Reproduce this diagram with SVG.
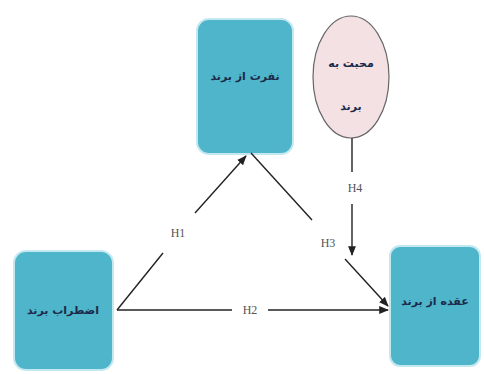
<svg xmlns="http://www.w3.org/2000/svg" width="484" height="374" viewBox="0 0 484 374">
<defs>
<style>
.box{fill:#4fb5ca;stroke:#c4e8f0;stroke-width:2}
.lbl{font-family:"DejaVu Sans",sans-serif;font-size:11px;font-weight:bold;fill:#1c2a4a;text-anchor:middle}
.h{font-family:"Liberation Serif",serif;font-size:12px;fill:#555;text-anchor:middle}
.ln{stroke:#222;stroke-width:1.4;fill:none}
</style>
<marker id="ar" viewBox="0 0 10 10" refX="9" refY="5" markerWidth="7" markerHeight="7" orient="auto-start-reverse">
<path d="M0,1 L10,5 L0,9 z" fill="#222"/>
</marker>
</defs>
<rect width="484" height="374" fill="#fff"/>
<g id="n-hate">
<rect class="box" x="197" y="19" width="96" height="135" rx="12"/>
<text class="lbl" x="245" y="80">نفرت از برند</text>
</g>
<g id="n-love">
<ellipse cx="351" cy="77" rx="38" ry="61" fill="#f4e1e4" stroke="#666" stroke-width="1.2"/>
<text class="lbl" x="351" y="67">محبت به</text>
<text class="lbl" x="351" y="110">برند</text>
</g>
<g id="n-anx">
<rect class="box" x="14" y="251" width="99" height="119" rx="12"/>
<text class="lbl" x="63" y="314">اضطراب برند</text>
</g>
<g id="n-comp">
<rect class="box" x="390" y="246" width="90" height="120" rx="10"/>
<text class="lbl" x="435" y="305">عقده از برند</text>
</g>
<g id="connectors">
<line class="ln" x1="117" y1="310" x2="163" y2="253"/>
<line class="ln" x1="195" y1="213" x2="246" y2="156" marker-end="url(#ar)"/>
<text class="h" x="178" y="237">H1</text>
<line class="ln" x1="117" y1="310" x2="232" y2="310"/>
<line class="ln" x1="268" y1="310" x2="388" y2="310" marker-end="url(#ar)"/>
<text class="h" x="250" y="314">H2</text>
<line class="ln" x1="251" y1="153" x2="312" y2="220"/>
<line class="ln" x1="345" y1="259" x2="388" y2="306" marker-end="url(#ar)"/>
<text class="h" x="328" y="247">H3</text>
<line class="ln" x1="352" y1="138" x2="352" y2="172"/>
<line class="ln" x1="352" y1="204" x2="352" y2="255" marker-end="url(#ar)"/>
<text class="h" x="355" y="192">H4</text>
</g>
</svg>
